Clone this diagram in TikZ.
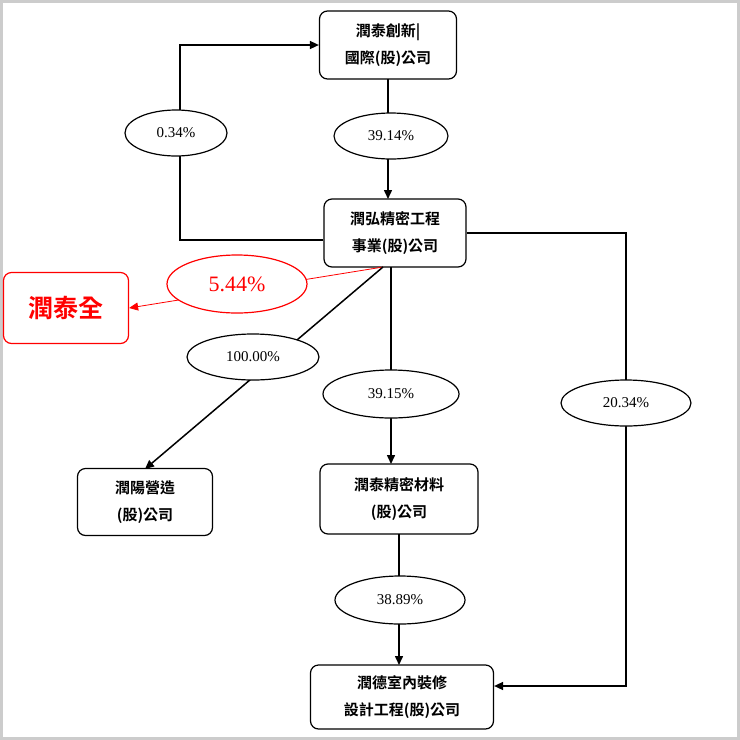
\documentclass[tikz,border=0pt]{standalone}
\usepackage{fontspec}
\setmainfont{Liberation Serif}
\newfontfamily\cjk{Noto Sans CJK TC}[BoldFont={Noto Sans CJK TC Bold}]
\usetikzlibrary{shapes.geometric,arrows.meta}
\begin{document}
\begin{tikzpicture}[x=1pt,y=-1pt,
 box/.style={draw,rounded corners=8pt,line width=1.2pt,align=center,font=\cjk\bfseries\fontsize{15}{27}\selectfont,inner sep=0pt},
 pct/.style={draw,ellipse,line width=1.2pt,fill=white,inner sep=0pt,font=\fontsize{15}{16}\selectfont},
 ln/.style={line width=1.5pt},
 arr/.style={ln,-{Triangle[length=9pt,width=8pt]}}]
\useasboundingbox (0,0) rectangle (740,740);
\draw[gray!40,line width=3pt] (1.5,1.5) rectangle (738.5,738.5);
\node[box,minimum width=137pt,minimum height=68pt] (A) at (388,45) {潤泰創新|\\國際(股)公司};
\node[box,minimum width=142pt,minimum height=68pt] (B) at (395,233) {潤弘精密工程\\事業(股)公司};
\node[box,draw=red,text=red,minimum width=125pt,minimum height=71pt,font=\cjk\bfseries\fontsize{25}{26}\selectfont] (C) at (66,308) {潤泰全};
\node[box,minimum width=135pt,minimum height=67pt] (D) at (145,502) {潤陽營造\\(股)公司};
\node[box,minimum width=158pt,minimum height=70pt] (E) at (399,499) {潤泰精密材料\\(股)公司};
\node[box,minimum width=183pt,minimum height=64pt] (F) at (402,697) {潤德室內裝修\\設計工程(股)公司};
\coordinate (b1) at (180,240);
\coordinate (b2) at (180,45);
\coordinate (b3) at (626,233);
\coordinate (b4) at (626,686);
\draw[arr] (B.west|-b1) -- (b1) -- (b2) -- (A.west|-b2);
\draw[arr] (388,79) -- (388,199);
\draw[red,line width=0.8pt,-{Triangle[length=9pt,width=8pt]}] (383,267) -- (C.east);
\draw[arr] (383,267) -- (145,469);
\draw[arr] (391,267) -- (391,464);
\draw[arr] (B.east|-b3) -- (b3) -- (b4) -- (F.east|-b4);
\draw[arr] (399,534) -- (399,665);
\node[pct,minimum width=102pt,minimum height=46pt] (p1) at (176,133) {0.34\%};
\node[pct,minimum width=114pt,minimum height=46pt] (p2) at (391,136) {39.14\%};
\node[pct,draw=red,text=red,minimum width=140pt,minimum height=58pt,font=\fontsize{22}{24}\selectfont] (p3) at (237,284) {5.44\%};
\node[pct,minimum width=132pt,minimum height=46pt] (p4) at (253,357) {100.00\%};
\node[pct,minimum width=136pt,minimum height=48pt] (p5) at (391,394) {39.15\%};
\node[pct,minimum width=130pt,minimum height=46pt] (p6) at (626,403) {20.34\%};
\node[pct,minimum width=130pt,minimum height=48pt] (p7) at (400,600) {38.89\%};
\end{tikzpicture}
\end{document}
